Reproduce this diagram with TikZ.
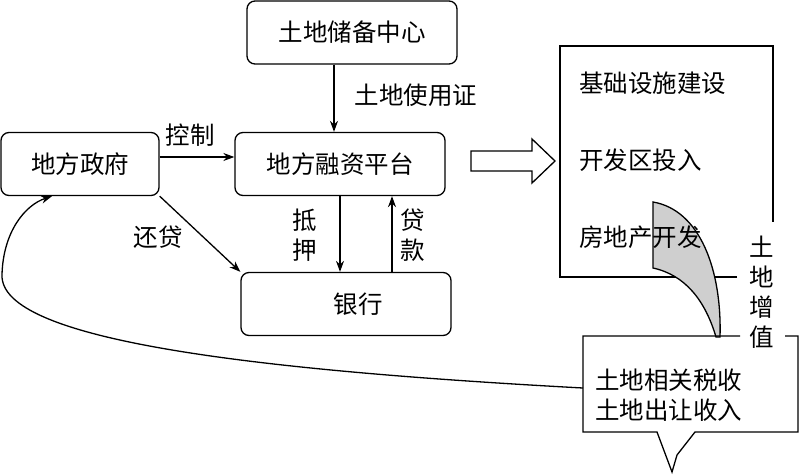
\documentclass[tikz,border=0pt]{standalone}
\usepackage{fontspec}
\newfontfamily\cjk{Noto Sans CJK SC}
\usetikzlibrary{arrows.meta}
\begin{document}
\begin{tikzpicture}[x=1pt,y=-1pt,
  every node/.style={font=\cjk\fontsize{24.5}{30}\selectfont, inner sep=0pt},
  box/.style={draw, line width=1.3pt, rounded corners=8pt, minimum height=63pt},
  line/.style={line width=1.3pt},
  arr/.style={line width=1.3pt, -{Stealth[length=11pt,width=8pt]}}]
\useasboundingbox (0,0) rectangle (799,474);
% main boxes
\node[box, minimum width=210pt] (cbd) at (352,32.5) {土地储备中心};
\node[box, minimum width=158pt] (gov) at (80,164) {地方政府};
\node[box, minimum width=210pt] (plat) at (340,164) {地方融资平台};
\node[box, minimum width=210pt] (bank) at (346,304) {\hspace{24pt}银行};
% arrows between boxes
\draw[arr] (334,0 |- cbd.south) -- (334,0 |- plat.north);
\node (lus) at (416,95) {土地使用证};
\draw[arr] ([yshift=7pt]gov.east) -- ([yshift=7pt]plat.west);
\node (ctl) at (190,135) {控制};
\draw[arr] (gov.south east) -- (bank.north west);
\node (rep) at (158,237) {还贷};
\draw[arr] (plat.south) -- (plat.south |- bank.north);
\node[align=center] (mort) at (305,235) {抵\\押};
\draw[arr] ([xshift=52pt]plat.south |- bank.north) -- ([xshift=52pt]plat.south);
\node[align=center] (loan) at (413,235) {贷\\款};
% hollow arrow
\draw[line] (471,151) -- (532,151) -- (532,139) -- (555,161) -- (532,183) -- (532,171) -- (471,171) -- cycle;
% investment box
\draw[line] (737,277) -- (560,277) -- (560,46) -- (773,46) -- (773,222);
\node[anchor=west] (inf) at (579,83) {基础设施建设};
\node[anchor=west] (dev) at (579,160) {开发区投入};
% gray scroll shape
\draw[line, fill=gray!38] (653,202) .. controls (700,210) and (722,270) .. (720,337)
  -- (716,337) .. controls (705,300) and (685,275) .. (653,268) -- cycle;
\node[anchor=west] (re) at (579,237) {房地产开发};
\node[align=center] (lv) at (762,292) {土\\地\\增\\值};
% callout box
\draw[line] (740,336) -- (583,336) -- (583,432) -- (657,432) -- (672,472) -- (677,455)
  -- (695,432) -- (798,432) -- (798,336) -- (785,336);
\coordinate (tax) at (583,388);
\node[anchor=west, align=left] (taxt) at (595,395) {土地相关税收\\土地出让收入};
% return curve
\draw[arr] (tax) .. controls (250,370) and (0,340) .. (2,275)
  .. controls (3,232) and (25,205) .. ([xshift=-28pt]gov.south);
\end{tikzpicture}
\end{document}
